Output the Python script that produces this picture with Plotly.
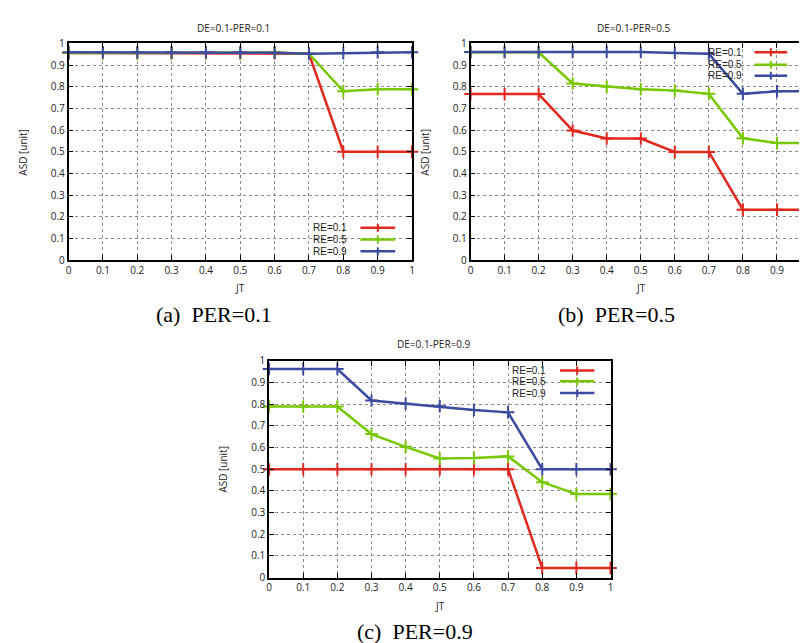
import plotly.graph_objects as go

jt = [0, 0.1, 0.2, 0.3, 0.4, 0.5, 0.6, 0.7, 0.8, 0.9, 1.0]
series_names = ["RE=0.1", "RE=0.5", "RE=0.9"]
colors = ["#e0281e", "#78c800", "#3c4ba0"]

# (a) PER=0.1
a_re01 = [0.955, 0.955, 0.955, 0.955, 0.955, 0.955, 0.955, 0.952, 0.50, 0.50, 0.50]
a_re05 = [0.955, 0.955, 0.955, 0.955, 0.955, 0.955, 0.958, 0.952, 0.779, 0.788, 0.788]
a_re09 = [0.959, 0.959, 0.959, 0.959, 0.959, 0.959, 0.957, 0.952, 0.955, 0.959, 0.959]
# (b) PER=0.5
b_re01 = [0.766, 0.766, 0.766, 0.598, 0.561, 0.561, 0.499, 0.499, 0.233, 0.233, 0.233]
b_re05 = [0.959, 0.959, 0.959, 0.815, 0.800, 0.788, 0.782, 0.767, 0.562, 0.540, 0.540]
b_re09 = [0.960, 0.960, 0.960, 0.960, 0.960, 0.960, 0.956, 0.952, 0.767, 0.779, 0.779]
# (c) PER=0.9
c_re01 = [0.50, 0.50, 0.50, 0.50, 0.50, 0.50, 0.50, 0.50, 0.044, 0.044, 0.044]
c_re05 = [0.789, 0.789, 0.789, 0.662, 0.603, 0.549, 0.552, 0.559, 0.440, 0.385, 0.385]
c_re09 = [0.962, 0.962, 0.962, 0.817, 0.802, 0.790, 0.773, 0.762, 0.500, 0.500, 0.500]

panel_titles = ["DE=0.1-PER=0.1", "DE=0.1-PER=0.5", "DE=0.1-PER=0.9"]
captions = ["(a)\u00a0\u00a0PER=0.1", "(b)\u00a0\u00a0PER=0.5", "(c)\u00a0\u00a0PER=0.9"]
tick_vals = [0, 0.1, 0.2, 0.3, 0.4, 0.5, 0.6, 0.7, 0.8, 0.9, 1.0]
tick_text = ["0", "0.1", "0.2", "0.3", "0.4", "0.5", "0.6", "0.7", "0.8", "0.9", "1"]

panels = [
    [a_re01, a_re05, a_re09],
    [b_re01, b_re05, b_re09],
    [c_re01, c_re05, c_re09],
]

W, H = 807, 643
# plot areas in pixels (left, right, top, bottom)
boxes = [(58, 404, 28, 250), (463, 806, 28, 250), (260, 604, 353, 575)]
title_pos = [(224, 12), (628, 12), (426, 336)]
caption_pos = [(205, 306), (610, 306), (407, 630)]
ylabel_x = [12, 417, 214]
xlabel_y = [279, 279, 604]
# legend: text right edge (data x), rows (data y), line x0, x1
legend_cfg = [
    (0.815, [0.149, 0.095, 0.041], 0.85, 0.951),
    (0.799, [0.959, 0.901, 0.851], 0.834, 0.93),
    (0.814, [0.955, 0.905, 0.851], 0.852, 0.953),
]

fig = go.Figure()
annotations = []
shapes = []
font_sans = "Open Sans"
font_key = "Liberation Sans"

for i, (series, box) in enumerate(zip(panels, boxes)):
    suffix = "" if i == 0 else str(i + 1)
    l, r, t, b = box
    xdom = [l / W, r / W]
    ydom = [1 - b / H, 1 - t / H]
    axcommon = dict(
        range=[0, 1], tickvals=tick_vals, ticktext=tick_text,
        showline=True, linecolor="black", linewidth=1.5, mirror="ticks",
        ticks="inside", ticklen=5, tickcolor="black", tickwidth=1,
        showgrid=True, gridcolor="#8a8a8a", griddash="dot", gridwidth=1,
        zeroline=False, tickfont=dict(family=font_sans, size=10, color="#222"),
        fixedrange=True,
    )
    fig.layout["xaxis" + suffix] = dict(axcommon, domain=xdom, anchor="y" + suffix)
    fig.layout["yaxis" + suffix] = dict(axcommon, domain=ydom, anchor="x" + suffix)
    for name, vals, col in zip(series_names, series, colors):
        fig.add_trace(go.Scatter(
            x=jt, y=vals, mode="lines+markers", name=name,
            xaxis="x" + suffix, yaxis="y" + suffix, showlegend=False,
            line=dict(color=col, width=2.5),
            marker=dict(symbol="cross-thin", size=9, line=dict(color=col, width=2)),
            cliponaxis=False,
        ))
    # title, caption, axis labels
    tx, ty = title_pos[i]
    annotations.append(dict(x=tx / W, y=1 - ty / H, xref="paper", yref="paper",
                            text=panel_titles[i], showarrow=False,
                            font=dict(family=font_sans, size=10, color="#222"),
                            xanchor="center", yanchor="middle"))
    cx, cy = caption_pos[i]
    annotations.append(dict(x=cx / W, y=1 - cy / H, xref="paper", yref="paper",
                            text=captions[i], showarrow=False,
                            font=dict(family="Liberation Serif", size=22, color="black"),
                            xanchor="center", yanchor="middle"))
    annotations.append(dict(x=ylabel_x[i] / W, y=1 - ((t + b) / 2) / H, xref="paper", yref="paper",
                            text="ASD [unit]", showarrow=False, textangle=-90,
                            font=dict(family=font_sans, size=10, color="#222"),
                            xanchor="center", yanchor="middle"))
    annotations.append(dict(x=((l + r) / 2) / W, y=1 - xlabel_y[i] / H, xref="paper", yref="paper",
                            text="JT", showarrow=False,
                            font=dict(family=font_sans, size=10, color="#222"),
                            xanchor="center", yanchor="middle"))
    # gnuplot-style key
    txr, rows, lx0, lx1 = legend_cfg[i]
    xr = "x" + suffix
    yr = "y" + suffix
    for name, col, ry in zip(series_names, colors, rows):
        annotations.append(dict(x=txr, y=ry, xref=xr, yref=yr, text=name, showarrow=False,
                                font=dict(family=font_key, size=10, color="#222"),
                                borderpad=0,
                                xanchor="right", yanchor="middle"))
        shapes.append(dict(type="line", xref=xr, yref=yr, x0=lx0, x1=lx1, y0=ry, y1=ry,
                           line=dict(color=col, width=2.5)))
        xc = (lx0 + lx1) / 2
        shapes.append(dict(type="line", xref=xr, yref=yr, x0=xc, x1=xc,
                           y0=ry - 0.018, y1=ry + 0.018, line=dict(color=col, width=2)))

fig.update_layout(
    width=W, height=H, margin=dict(l=0, r=0, t=0, b=0),
    paper_bgcolor="white", plot_bgcolor="white",
    annotations=annotations, shapes=shapes, showlegend=False,
)
fig.write_html("out.html")
